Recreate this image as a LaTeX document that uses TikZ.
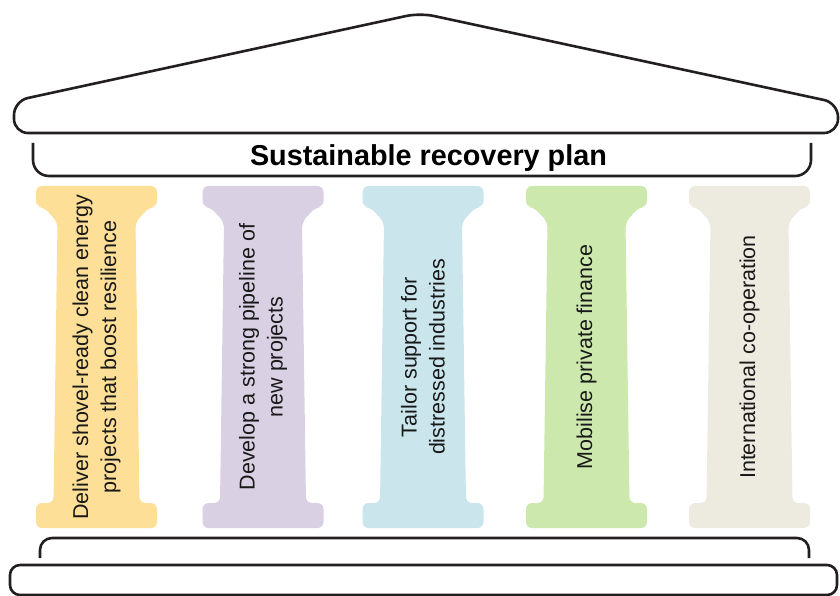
\documentclass[tikz,border=0pt]{standalone}
\usepackage{fontspec}
\setmainfont{Liberation Sans}
\usetikzlibrary{positioning}
\definecolor{mLine}{HTML}{231F20}
\definecolor{mYellow}{HTML}{FDDF97}
\definecolor{mLavender}{HTML}{D9D0E4}
\definecolor{mBlue}{HTML}{CAE5EC}
\definecolor{mGreen}{HTML}{CCE8AD}
\definecolor{mBeige}{HTML}{EDEBE0}
\tikzset{
  houseline/.style={draw=mLine, line width=2.6pt, rounded corners=#1},
  pillarlabel/.style={rotate=90, align=center, text=black!90, font=\fontsize{21.5}{28}\selectfont}
}

\begin{document}
\begin{tikzpicture}[x=1pt, y=-1pt]
    \useasboundingbox (0,0) rectangle (840,596);
    % roof and title bracket
    \draw[houseline=14] (420,13) -- (838,103) -- (838,133) -- (14,133) -- (14,101) -- cycle;
    \draw[houseline=16] (33,143) -- (33,176) -- (811,176) -- (811,143);
    \node[font=\bfseries\fontsize{28.8}{34}\selectfont, anchor=base] (title) at (428.5,166) {Sustainable recovery plan};
    % pillars
    \foreach \cx/\col/\txt [count=\i] in {
        96.5/mYellow/{Deliver shovel-ready clean energy\\projects that boost resilience},
        263/mLavender/{Develop a strong pipeline of\\new projects},
        423/mBlue/{Tailor support for\\distressed industries},
        586.5/mGreen/{Mobilise private finance},
        749.5/mBeige/{International co-operation}} {
      \fill[\col, rounded corners=6] (\cx,186) -- ({\cx+60.5},186) -- ({\cx+60.5},207) -- ({\cx+53},207)
        -- ({\cx+39},222) -- ({\cx+43},503) -- ({\cx+60.5},503) -- ({\cx+60.5},528) -- ({\cx-60.5},528)
        -- ({\cx-60.5},503) -- ({\cx-43},503) -- ({\cx-39},222) -- ({\cx-53},207) -- ({\cx-60.5},207)
        -- ({\cx-60.5},186) -- cycle;
      \node[pillarlabel] (label\i) at (\cx,357) {\txt};
    }
    % base
    \draw[houseline=12] (40,558) -- (40,538) -- (809,538) -- (809,558);
    \draw[houseline=10] (10,565) rectangle (837,595);
  \end{tikzpicture}
\end{document}
